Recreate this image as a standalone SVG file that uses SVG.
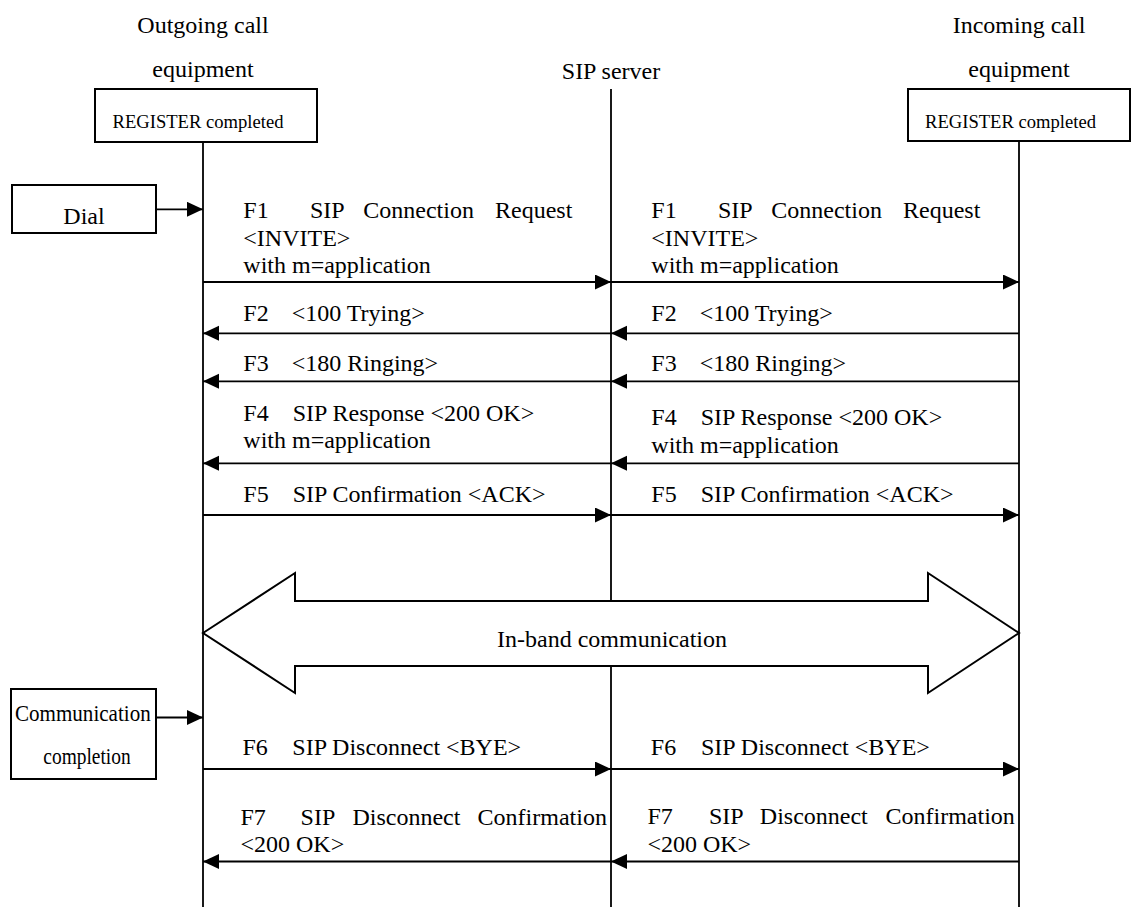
<svg xmlns="http://www.w3.org/2000/svg" width="1131" height="907" viewBox="0 0 1131 907">
<style>
text{font-family:"Liberation Serif","Times New Roman",serif;fill:#000;font-size:24px}
.sm{font-size:18.6px}
.box{fill:#fff;stroke:#000;stroke-width:2}
.life{stroke:#000;stroke-width:1.8;fill:none}
.msg{stroke:#000;stroke-width:1.8;fill:none;marker-end:url(#ah)}
.mid{text-anchor:middle}
</style>
<defs>
<marker id="ah" markerUnits="userSpaceOnUse" markerWidth="18" markerHeight="16" refX="16" refY="7.5" orient="auto">
<path d="M0,0 L16,7.5 L0,15 Z" fill="#000"/>
</marker>
</defs>
<rect width="1131" height="907" fill="#fff"/>

<g id="lifelines">
<line class="life" x1="203" y1="89" x2="203" y2="907"/>
<line class="life" x1="611" y1="89" x2="611" y2="907"/>
<line class="life" x1="1019" y1="89" x2="1019" y2="907"/>
</g>

<g id="outgoing">
<text class="mid" x="203" y="32.5">Outgoing call</text>
<text class="mid" x="203" y="76.5">equipment</text>
<rect class="box" x="95" y="89" width="222" height="53"/>
<text class="sm" x="112.5" y="128.3">REGISTER completed</text>
</g>

<g id="server">
<text class="mid" x="611" y="78.5">SIP server</text>
</g>

<g id="incoming">
<text class="mid" x="1019" y="32.5">Incoming call</text>
<text class="mid" x="1019" y="76.5">equipment</text>
<rect class="box" x="908" y="89" width="222" height="52"/>
<text class="sm" x="925" y="127.7">REGISTER completed</text>
</g>

<g id="dial">
<rect class="box" x="12" y="185" width="144" height="48"/>
<text x="63.3" y="224">Dial</text>
</g>

<g id="completion">
<rect class="box" x="11" y="689" width="145" height="90"/>
<text x="15" y="721" textLength="135.7" lengthAdjust="spacingAndGlyphs">Communication</text>
<text x="43.3" y="764.3" textLength="87.4" lengthAdjust="spacingAndGlyphs">completion</text>
</g>

<g id="inband">
<polygon points="203,633 295,573 295,601 928,601 928,573 1019,633 928,693 928,666 295,666 295,693" fill="#fff" stroke="#000" stroke-width="2"/>
<text class="mid" x="612" y="646.7">In-band communication</text>
</g>

<g id="connectors">
<line class="msg" x1="156" y1="209.3" x2="203" y2="209.3"/>
<line class="msg" x1="156" y1="717.5" x2="203" y2="717.5"/>
<line class="msg" x1="203" y1="282" x2="611" y2="282"/>
<line class="msg" x1="611" y1="282" x2="1019" y2="282"/>
<line class="msg" x1="611" y1="333.3" x2="203" y2="333.3"/>
<line class="msg" x1="1019" y1="333.3" x2="611" y2="333.3"/>
<line class="msg" x1="611" y1="381.3" x2="203" y2="381.3"/>
<line class="msg" x1="1019" y1="381.3" x2="611" y2="381.3"/>
<line class="msg" x1="611" y1="463.3" x2="203" y2="463.3"/>
<line class="msg" x1="1019" y1="463.3" x2="611" y2="463.3"/>
<line class="msg" x1="203" y1="515" x2="611" y2="515"/>
<line class="msg" x1="611" y1="515" x2="1019" y2="515"/>
<line class="msg" x1="203" y1="769" x2="611" y2="769"/>
<line class="msg" x1="611" y1="769" x2="1019" y2="769"/>
<line class="msg" x1="611" y1="861.5" x2="203" y2="861.5"/>
<line class="msg" x1="1019" y1="861.5" x2="611" y2="861.5"/>
</g>

<g id="labels-left">
<text y="218.3"><tspan x="243.3">F1</tspan><tspan x="310">SIP</tspan><tspan x="363.3">Connection</tspan><tspan x="495">Request</tspan></text>
<text x="243.3" y="245.7">&lt;INVITE&gt;</text>
<text x="243.3" y="273.3">with m=application</text>
<text y="320.7"><tspan x="243.3">F2</tspan><tspan x="291.7">&lt;100 Trying&gt;</tspan></text>
<text y="370.7"><tspan x="243.3">F3</tspan><tspan x="291.7">&lt;180 Ringing&gt;</tspan></text>
<text y="420.7"><tspan x="243.3">F4</tspan><tspan x="292.7">SIP Response &lt;200 OK&gt;</tspan></text>
<text x="243.3" y="448.3">with m=application</text>
<text y="502.3"><tspan x="243.3">F5</tspan><tspan x="292.7">SIP Confirmation &lt;ACK&gt;</tspan></text>
<text y="755"><tspan x="242.5">F6</tspan><tspan x="292.3">SIP Disconnect &lt;BYE&gt;</tspan></text>
<text y="825"><tspan x="240.5">F7</tspan><tspan x="300.6">SIP</tspan><tspan x="352.4">Disconnect</tspan><tspan x="477.6">Confirmation</tspan></text>
<text x="240.5" y="852.3">&lt;200 OK&gt;</text>
</g>

<g id="labels-right">
<text y="218.3"><tspan x="651.3">F1</tspan><tspan x="718">SIP</tspan><tspan x="771.3">Connection</tspan><tspan x="903">Request</tspan></text>
<text x="651.3" y="245.7">&lt;INVITE&gt;</text>
<text x="651.3" y="273.3">with m=application</text>
<text y="320.7"><tspan x="651.3">F2</tspan><tspan x="699.7">&lt;100 Trying&gt;</tspan></text>
<text y="370.7"><tspan x="651.3">F3</tspan><tspan x="699.7">&lt;180 Ringing&gt;</tspan></text>
<text y="425"><tspan x="651.3">F4</tspan><tspan x="700.7">SIP Response &lt;200 OK&gt;</tspan></text>
<text x="651.3" y="453.3">with m=application</text>
<text y="502.3"><tspan x="651.3">F5</tspan><tspan x="700.7">SIP Confirmation &lt;ACK&gt;</tspan></text>
<text y="755"><tspan x="650.8">F6</tspan><tspan x="701">SIP Disconnect &lt;BYE&gt;</tspan></text>
<text y="823.5"><tspan x="647.4">F7</tspan><tspan x="709">SIP</tspan><tspan x="759.8">Disconnect</tspan><tspan x="885.5">Confirmation</tspan></text>
<text x="647.4" y="851.7">&lt;200 OK&gt;</text>
</g>
</svg>
